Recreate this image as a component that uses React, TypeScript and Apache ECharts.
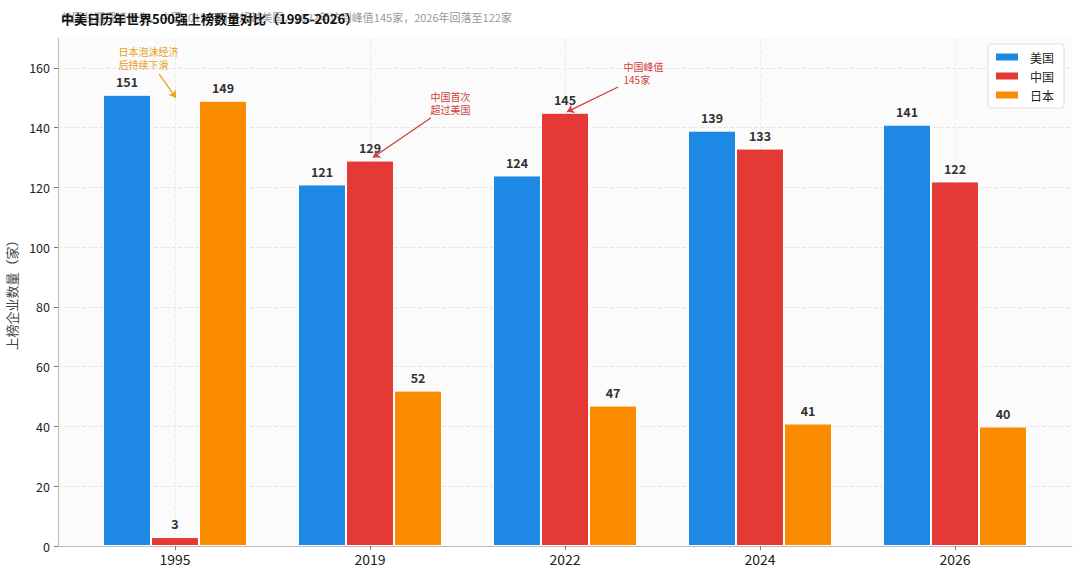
import React, { useEffect, useRef } from "react";
import * as echarts from "echarts";

const years = ["1995", "2019", "2022", "2024", "2026"];
const usa = [151, 121, 124, 139, 141];
const china = [3, 129, 145, 133, 122];
const japan = [149, 52, 47, 41, 40];
const seriesNames = ["美国", "中国", "日本"];
const yTicks = [0, 20, 40, 60, 80, 100, 120, 140, 160];
const xTicks = [0, 1, 2, 3, 4];

const titleText = "中美日历年世界500强上榜数量对比（1995-2026）";
const subText = "美国长期保持领先，中国2019年首次超越美国，2022年达到峰值145家，2026年回落至122家";

const notes = [
  { text: "日本泡沫经济\n后持续下滑", at: [-0.29, 163.3], from: [-0.082, 158], to: [0.005, 150], color: "#E8A020" },
  { text: "中国首次\n超过美国", at: [1.31, 148.3], from: [1.313, 143.3], to: [1.015, 130], color: "#D0403C" },
  { text: "中国峰值\n145家", at: [2.3, 158.3], from: [2.272, 153.6], to: [2.01, 145.3], color: "#D0403C" },
];

const FONT = "'Noto Sans CJK SC', 'Noto Sans', sans-serif";

export default function App() {
  const ref = useRef<HTMLDivElement>(null);
  useEffect(() => {
    if (!ref.current) return;
    const chart = echarts.init(ref.current, null, { renderer: "svg" });
    const colors = ["#1E88E5", "#E53935", "#FB8C00"];
    const values = [usa, china, japan];
    const barSeries = values.map((arr, k) => ({
      name: seriesNames[k],
      type: "bar",
      data: arr.map((v, i) => [i, v]),
      barWidth: 48,
      barGap: "0%",
      itemStyle: { color: colors[k], borderColor: "#ffffff", borderWidth: 1 },
      label: {
        show: true,
        position: "top",
        distance: 7,
        fontSize: 12.5,
        fontWeight: "bold",
        color: "#333",
        fontFamily: FONT,
        formatter: (p: any) => String(p.value[1]),
      },
    }));
    const noteSeries = {
      name: "notes",
      type: "line",
      data: [],
      silent: true,
      markLine: {
        silent: true,
        animation: false,
        label: { show: false },
        data: notes.map((n) => [
          { coord: n.from, symbol: "none", lineStyle: { color: n.color, width: 1.3, type: "solid" } },
          { coord: n.to, symbol: "arrow", symbolSize: 7 },
        ]),
      },
      markPoint: {
        silent: true,
        animation: false,
        symbol: "rect",
        symbolSize: 0,
        data: notes.map((n) => ({
          coord: n.at,
          itemStyle: { color: "transparent" },
          label: {
            show: true,
            position: "inside",
            align: "left",
            verticalAlign: "middle",
            formatter: n.text,
            color: n.color,
            fontSize: 10,
            lineHeight: 13,
            fontFamily: FONT,
          },
        })),
      },
    };
    chart.setOption({
      animation: false,
      backgroundColor: "#ffffff",
      color: colors,
      textStyle: { fontFamily: FONT },
      title: [
        {
          text: subText,
          left: 56,
          top: 6,
          textStyle: { fontSize: 11, fontWeight: "normal", color: "#999", fontFamily: FONT },
        },
        {
          text: titleText,
          left: 56,
          top: 7,
          textStyle: { fontSize: 13, fontWeight: "bold", color: "#111", fontFamily: FONT },
        },
      ],
      legend: {
        data: seriesNames,
        orient: "vertical",
        right: 16,
        top: 44,
        icon: "rect",
        itemWidth: 24,
        itemHeight: 9,
        itemGap: 7,
        padding: [7, 10, 7, 6],
        backgroundColor: "#ffffff",
        borderColor: "#dddddd",
        borderWidth: 1,
        borderRadius: 3,
        textStyle: { fontSize: 12, color: "#222", fontFamily: FONT, padding: [0, 0, 0, 6] },
      },
      grid: {
        left: 58,
        right: 8,
        top: 38,
        bottom: 32,
        show: true,
        backgroundColor: "#fbfbfb",
        borderWidth: 0,
        containLabel: false,
        outerBoundsMode: "none",
      },
      xAxis: {
        type: "value",
        min: -0.6,
        max: 4.6,
        axisLine: { show: true, onZero: false, lineStyle: { color: "#bbbbbb", width: 1 } },
        axisTick: { show: true, length: 4, customValues: xTicks, lineStyle: { color: "#777" } },
        axisLabel: {
          customValues: xTicks,
          fontSize: 14,
          color: "#222",
          margin: 6,
          fontFamily: FONT,
          formatter: (v: number) => years[Math.round(v)] ?? "",
        },
        splitLine: {
          show: true,
          customValues: xTicks,
          lineStyle: { color: "#ececec", type: "dashed", width: 1 },
        },
      },
      yAxis: {
        type: "value",
        min: 0,
        max: 170,
        interval: 20,
        name: "上榜企业数量（家）",
        nameLocation: "middle",
        nameGap: 40,
        nameTextStyle: { fontSize: 13, color: "#444", fontFamily: FONT },
        axisLine: { show: true, onZero: false, lineStyle: { color: "#bbbbbb", width: 1 } },
        axisTick: { show: true, length: 4, customValues: yTicks, lineStyle: { color: "#777" } },
        axisLabel: { customValues: yTicks, fontSize: 12.5, color: "#222", margin: 8, fontFamily: FONT },
        splitLine: {
          show: true,
          customValues: yTicks,
          lineStyle: { color: "#e6e6e6", type: "dashed", width: 1 },
        },
      },
      series: [...barSeries, noteSeries],
    });
    return () => chart.dispose();
  }, []);
  return (
    <div
      ref={ref}
      style={{ position: "absolute", left: 0, top: 0, width: 1080, height: 578 }}
    />
  );
}
